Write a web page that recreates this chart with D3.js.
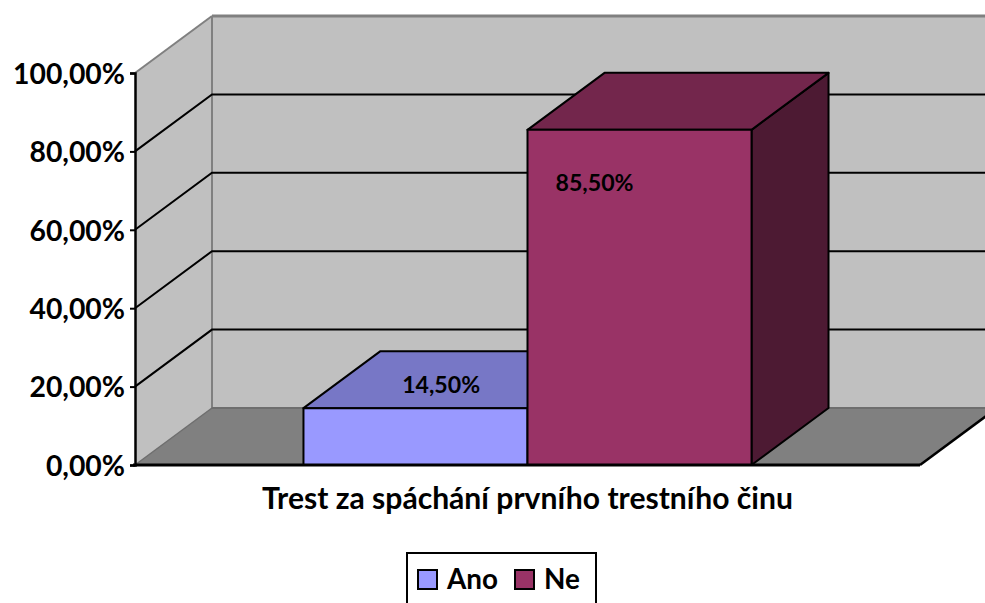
<!DOCTYPE html>
<html><head><meta charset="utf-8">
<script src="https://cdn.jsdelivr.net/npm/d3@7"></script>
<style>html,body{margin:0;padding:0;background:#fff;overflow:hidden}svg{display:block}</style>
</head><body>
<svg id="c" width="985" height="603"></svg>
<script>
const categories = ["Trest za spáchání prvního trestního činu"];
const seriesNames = ["Ano", "Ne"];
const seriesValues = [0.145, 0.855];
const dataLabels = ["14,50%", "85,50%"];
const yTicks = [0, 0.2, 0.4, 0.6, 0.8, 1.0];
const yTickLabels = ["0,00%", "20,00%", "40,00%", "60,00%", "80,00%", "100,00%"];

const colors = {
  front: ["#9999ff", "#993366"],
  top: ["#7777c6", "#73264c"],
  side: ["#5c5c99", "#4d1a33"]
};
const FONT = "Lato, 'Open Sans', sans-serif";
const svg = d3.select("#c");
const DX = 77, DY = -57;
const left = 135, right = 920, bottom = 465;

const y = d3.scaleLinear().domain([0, 1]).range([bottom, 73]);
const x0 = d3.scaleBand().domain(categories).range([left, right]).paddingInner(0).paddingOuter(0.376);
const x1 = d3.scaleBand().domain(seriesNames).range([0, x0.bandwidth()]);

const line = (pts) => "M" + pts.map(p => p.join(",")).join("L") + "Z";
const W = 985;

// back wall
svg.append("path").attr("d", line([[left+DX, bottom+DY],[W+5, bottom+DY],[W+5, y(1)+DY],[left+DX, y(1)+DY]]))
  .attr("fill", "#c0c0c0");
// left wall
svg.append("path").attr("d", line([[left, bottom],[left, y(1)],[left+DX, y(1)+DY],[left+DX, bottom+DY]]))
  .attr("fill", "#c0c0c0");
// wall edges
svg.append("line").attr("x1", left+DX).attr("x2", left+DX).attr("y1", y(1)+DY).attr("y2", bottom+DY)
  .attr("stroke", "#808080").attr("stroke-width", 2);
svg.append("line").attr("x1", left).attr("x2", left+DX).attr("y1", y(1)).attr("y2", y(1)+DY)
  .attr("stroke", "#808080").attr("stroke-width", 2);
svg.append("line").attr("x1", left+DX).attr("x2", W+5).attr("y1", y(1)+DY).attr("y2", y(1)+DY)
  .attr("stroke", "#808080").attr("stroke-width", 3);

// gridlines
const grid = yTicks.filter(t => t > 0 && t < 1);
svg.append("g").selectAll("path").data(grid).join("path")
  .attr("d", t => `M${left},${y(t)}L${left+DX},${y(t)+DY}L${W+5},${y(t)+DY}`)
  .attr("fill", "none").attr("stroke", "#000").attr("stroke-width", 2);

// floor
svg.append("path").attr("d", line([[left, bottom],[right, bottom],[right+DX, bottom+DY],[left+DX, bottom+DY]]))
  .attr("fill", "#808080");
svg.append("line").attr("x1", left+DX).attr("x2", W+5).attr("y1", bottom+DY).attr("y2", bottom+DY)
  .attr("stroke", "#6e6e6e").attr("stroke-width", 2);
svg.append("line").attr("x1", left).attr("x2", left+DX).attr("y1", bottom).attr("y2", bottom+DY)
  .attr("stroke", "#6e6e6e").attr("stroke-width", 1.5);
svg.append("line").attr("x1", right).attr("x2", right+DX).attr("y1", bottom).attr("y2", bottom+DY)
  .attr("stroke", "#000").attr("stroke-width", 2.5);

// bars
const bars = svg.append("g");
seriesNames.forEach((s, i) => {
  const xa = x0(categories[0]) + x1(s), xb = xa + x1.bandwidth();
  const yt = y(seriesValues[i]);
  const g = bars.append("g");
  g.append("path").attr("d", line([[xb, bottom],[xb, yt],[xb+DX, yt+DY],[xb+DX, bottom+DY]]))
    .attr("fill", colors.side[i]).attr("stroke", "#000").attr("stroke-width", 2).attr("stroke-linejoin", "round");
  g.append("path").attr("d", line([[xa, yt],[xb, yt],[xb+DX, yt+DY],[xa+DX, yt+DY]]))
    .attr("fill", colors.top[i]).attr("stroke", "#000").attr("stroke-width", 2).attr("stroke-linejoin", "round");
  g.append("path").attr("d", line([[xa, bottom],[xb, bottom],[xb, yt],[xa, yt]]))
    .attr("fill", colors.front[i]).attr("stroke", "#000").attr("stroke-width", 2).attr("stroke-linejoin", "round");
});

// axes
svg.append("line").attr("x1", left-2).attr("x2", right).attr("y1", bottom).attr("y2", bottom)
  .attr("stroke", "#000").attr("stroke-width", 3);
const yAxis = d3.axisLeft(y).tickValues(yTicks).tickFormat((d, i) => yTickLabels[i]).tickSize(5).tickPadding(6);
const ya = svg.append("g").attr("transform", `translate(${left},0)`).call(yAxis);
ya.select(".domain").attr("stroke", "#000").attr("stroke-width", 2.5);
ya.selectAll(".tick line").attr("stroke", "#000").attr("stroke-width", 2);
ya.selectAll(".tick text").attr("font-family", FONT).attr("font-weight", "bold").attr("font-size", 26)
  .attr("fill", "#000").attr("dy", "0.36em");

function fit(sel, target, ref) {
  const node = ref || sel.node();
  const w = node.getComputedTextLength();
  const fs = parseFloat(d3.select(node).attr("font-size"));
  sel.attr("font-size", fs * target / w);
}
fit(ya.selectAll(".tick text"), 112, ya.selectAll(".tick text").nodes()[5]);
ya.selectAll(".tick text").attr("x", -10);

// data labels
const dl = svg.append("g").selectAll("text").data(dataLabels).join("text")
  .attr("x", (d, i) => {
    const xa = x0(categories[0]) + x1(seriesNames[i]);
    return i === 0 ? xa + x1.bandwidth()/2 + DX/3 : xa + 67;
  })
  .attr("y", (d, i) => i === 0 ? y(seriesValues[i]) + DY/2 + 13 : y(seriesValues[i]) + 61)
  .attr("text-anchor", "middle").attr("font-family", FONT).attr("font-weight", "bold")
  .attr("font-size", 22).attr("fill", "#000").text(d => d);
fit(dl, 78, dl.nodes()[0]);

// category title
const t = svg.append("text").attr("x", x0(categories[0]) + x0.bandwidth()/2).attr("y", 509)
  .attr("text-anchor", "middle").attr("font-family", FONT).attr("font-weight", "bold")
  .attr("font-size", 26).attr("fill", "#000").text(categories[0]);
fit(t, 531);

// legend
const lg = svg.append("g");
lg.append("rect").attr("x", 407).attr("y", 553).attr("width", 189).attr("height", 60)
  .attr("fill", "#fff").attr("stroke", "#000").attr("stroke-width", 2);
const legX = [418, 515];
seriesNames.forEach((s, i) => {
  lg.append("rect").attr("x", legX[i]).attr("y", 570).attr("width", 19).attr("height", 19)
    .attr("fill", colors.front[i]).attr("stroke", "#000").attr("stroke-width", 2);
  const tx = lg.append("text").attr("x", legX[i] + 29).attr("y", 589).attr("font-family", FONT)
    .attr("font-weight", "bold").attr("font-size", 26).attr("fill", "#000").text(s);
  if (i === 0) fit(tx, 51);
  else tx.attr("font-size", lg.select("text").attr("font-size"));
});
</script>
</body></html>
